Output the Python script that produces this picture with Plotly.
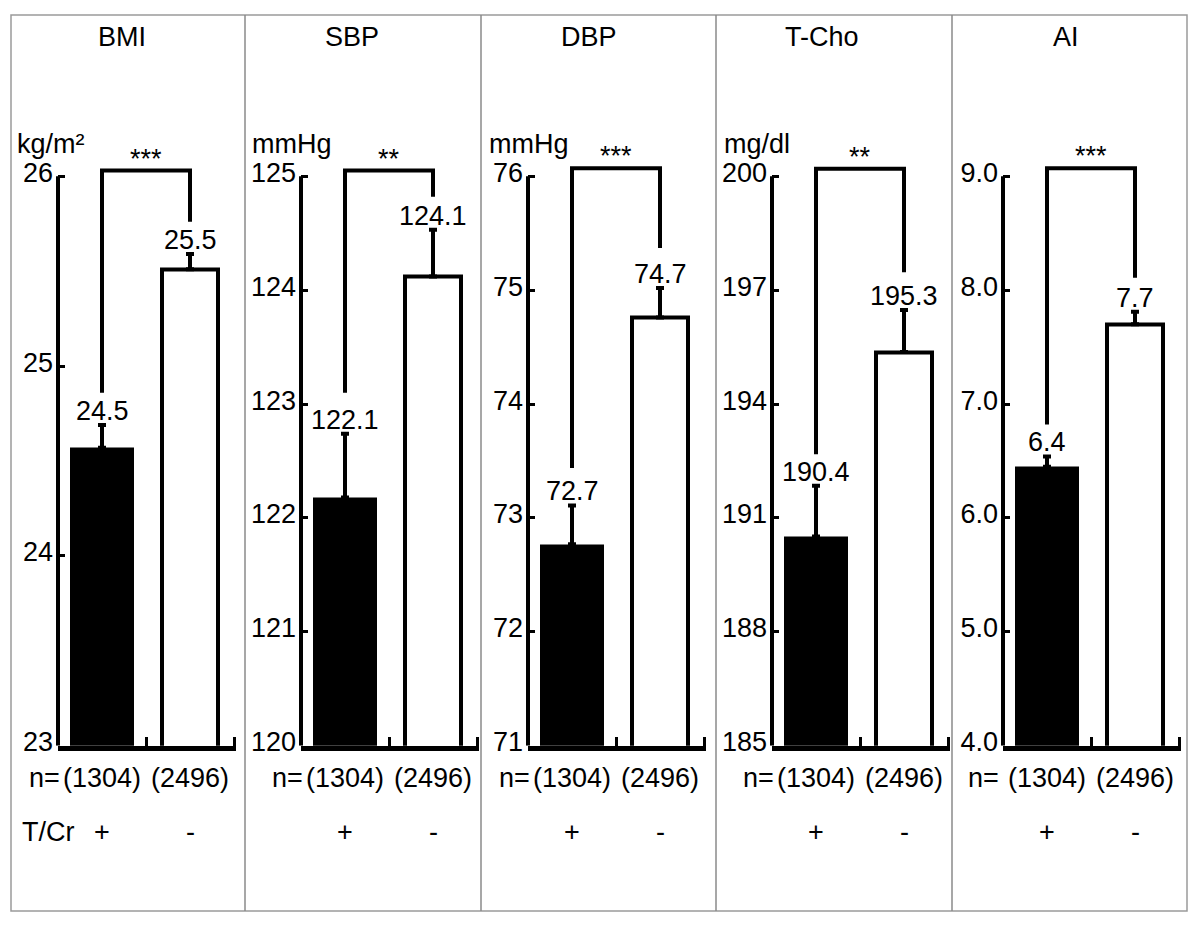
import plotly.graph_objects as go

# page is 1200x935; the browser body keeps an 8px margin, so the figure is 1184x919
PAGE_W, PAGE_H = 1200, 935
OFF = 8
W, H = PAGE_W - 2 * OFF, PAGE_H - 2 * OFF

titles = ["BMI", "SBP", "DBP", "T-Cho", "AI"]
units = ["kg/m²", "mmHg", "mmHg", "mg/dl", ""]
groups = ["+", "-"]
n_counts = ["(1304)", "(2496)"]
bar_vals = [[24.57, 25.51], [122.18, 124.12], [72.77, 74.76], [190.51, 195.37], [6.45, 7.70]]
err_up = [[0.12, 0.08], [0.56, 0.41], [0.34, 0.26], [1.34, 1.11], [0.09, 0.11]]
value_text = [["24.5", "25.5"], ["122.1", "124.1"], ["72.7", "74.7"], ["190.4", "195.3"], ["6.4", "7.7"]]
sig_text = ["***", "**", "***", "**", "***"]
bracket_low = [[24.86, 25.76], [123.10, 124.82], [73.44, 75.37], [192.68, 197.47], [6.82, 8.11]]
bracket_top = [26.03, 125.05, 76.07, 200.2, 9.07]
y_ticks = [[23, 24, 25, 26], [120, 121, 122, 123, 124, 125], [71, 72, 73, 74, 75, 76],
           [185, 188, 191, 194, 197, 200], [4, 5, 6, 7, 8, 9]]
y_ticktext = [["23", "24", "25", "26"], ["120", "121", "122", "123", "124", "125"],
              ["71", "72", "73", "74", "75", "76"], ["185", "188", "191", "194", "197", "200"],
              ["4.0", "5.0", "6.0", "7.0", "8.0", "9.0"]]

# layout geometry (page pixels)
axis_px = [58, 301, 528, 772, 1003]
title_px = [122, 352, 589, 822, 1066]
unit_px = [15, 250, 487, 722, 960]
panel_edges = [11, 245, 481, 716, 952, 1187]
top_border, bottom_border = 11, 922
y_bot_px, y_tick_top_px, y_dom_top_px = 754, 175, 160
cat_px = 88.0
xr = [-0.5, 1.52]

FONT = "Arial, Liberation Sans, sans-serif"
FS = 27

def px_x(p):
    return (p - OFF) / W

def px_y(p):
    return 1 - (p - OFF) / H

fig = go.Figure()
annotations = []
shapes = []

for i in range(5):
    k = i + 1
    xa = "x" if k == 1 else f"x{k}"
    ya = "y" if k == 1 else f"y{k}"
    lo, hi = y_ticks[i][0], y_ticks[i][-1]
    span_px = y_bot_px - y_tick_top_px
    top_val = hi + (hi - lo) * (y_tick_top_px - y_dom_top_px) / span_px

    # bars
    fig.add_trace(go.Bar(
        x=[0, 1], y=bar_vals[i], width=[0.73, 0.64],
        marker=dict(color=["black", "white"], line=dict(color="black", width=[0, 4])),
        error_y=dict(type="data", symmetric=False, array=err_up[i], arrayminus=[0, 0],
                     color="black", thickness=4, width=4),
        xaxis=xa, yaxis=ya, showlegend=False, hoverinfo="skip"))

    # significance bracket
    fig.add_trace(go.Scatter(
        x=[0, 0, 1, 1], y=[bracket_low[i][0], bracket_top[i], bracket_top[i], bracket_low[i][1]],
        mode="lines", line=dict(color="black", width=4),
        xaxis=xa, yaxis=ya, showlegend=False, hoverinfo="skip"))

    x0 = axis_px[i]
    x1 = x0 + cat_px * (xr[1] - xr[0])
    fig.update_layout(**{
        ("xaxis" if k == 1 else f"xaxis{k}"): dict(
            domain=[px_x(x0), px_x(x1)], range=xr, anchor=ya,
            showline=True, linewidth=5, linecolor="black",
            ticks="inside", tickvals=[0.5, 1.5], ticklen=9, tickwidth=3, tickcolor="black",
            showticklabels=False, showgrid=False, zeroline=False, fixedrange=True),
        ("yaxis" if k == 1 else f"yaxis{k}"): dict(
            domain=[px_y(y_bot_px), px_y(y_dom_top_px)], range=[lo, top_val], anchor=xa,
            showline=False, ticks="inside", tickvals=y_ticks[i], ticktext=y_ticktext[i],
            ticklen=7, tickwidth=3, tickcolor="black", ticklabelstandoff=4,
            ticklabelshift=-4,
            tickfont=dict(family=FONT, size=FS, color="black"),
            showgrid=False, zeroline=False, fixedrange=True),
    })

    # y axis line
    shapes.append(dict(type="line", xref=f"{xa} domain", yref=ya, x0=0, x1=0, y0=lo, y1=hi,
                       line=dict(color="black", width=4)))

    # value labels
    for j in range(2):
        annotations.append(dict(x=j, y=bar_vals[i][j] + err_up[i][j], xref=xa, yref=ya,
                                text=value_text[i][j], showarrow=False, yanchor="bottom",
                                yshift=-3, font=dict(family=FONT, size=FS, color="black")))
    # stars
    annotations.append(dict(x=0.5, y=bracket_top[i], xref=xa, yref=ya, text=sig_text[i],
                            showarrow=False, yanchor="bottom", yshift=-5,
                            font=dict(family=FONT, size=FS, color="black")))
    # title
    annotations.append(dict(x=px_x(title_px[i]), y=px_y(33), xref="paper", yref="paper",
                            text=titles[i], showarrow=False, xanchor="center", yanchor="middle",
                            font=dict(family=FONT, size=FS, color="black")))
    # unit
    if units[i]:
        annotations.append(dict(x=px_x(unit_px[i]), y=px_y(142), xref="paper", yref="paper",
                                text=units[i], showarrow=False, xanchor="left", yanchor="middle",
                                font=dict(family=FONT, size=FS, color="black")))
    # n labels
    annotations.append(dict(x=0, y=px_y(787), xref=xa, yref="paper", text="n=",
                            showarrow=False, xanchor="right", yanchor="middle",
                            xshift=-40 if i < 4 else -46,
                            font=dict(family=FONT, size=FS, color="black")))
    for j in range(2):
        annotations.append(dict(x=j, y=px_y(787), xref=xa, yref="paper", text=n_counts[j],
                                showarrow=False, xanchor="center", yanchor="middle",
                                font=dict(family=FONT, size=FS, color="black")))
        annotations.append(dict(x=j, y=px_y(842), xref=xa, yref="paper", text=groups[j],
                                showarrow=False, xanchor="center", yanchor="middle",
                                font=dict(family=FONT, size=FS, color="black")))

annotations.append(dict(x=px_x(20), y=px_y(842), xref="paper", yref="paper", text="T/Cr",
                        showarrow=False, xanchor="left", yanchor="middle",
                        font=dict(family=FONT, size=FS, color="black")))

# panel borders
shapes.append(dict(type="rect", xref="paper", yref="paper",
                   x0=px_x(panel_edges[0]), x1=px_x(panel_edges[-1]),
                   y0=px_y(bottom_border), y1=px_y(top_border),
                   line=dict(color="#9a9a9a", width=1.5)))
for e in panel_edges[1:-1]:
    shapes.append(dict(type="line", xref="paper", yref="paper", x0=px_x(e), x1=px_x(e),
                       y0=px_y(bottom_border), y1=px_y(top_border),
                       line=dict(color="#8a8a8a", width=1.5)))

fig.update_layout(width=W, height=H, margin=dict(l=0, r=0, t=0, b=0),
                  paper_bgcolor="white", plot_bgcolor="white", bargap=0,
                  annotations=annotations, shapes=shapes, showlegend=False)

fig.write_html("out.html", config={"displayModeBar": False})
